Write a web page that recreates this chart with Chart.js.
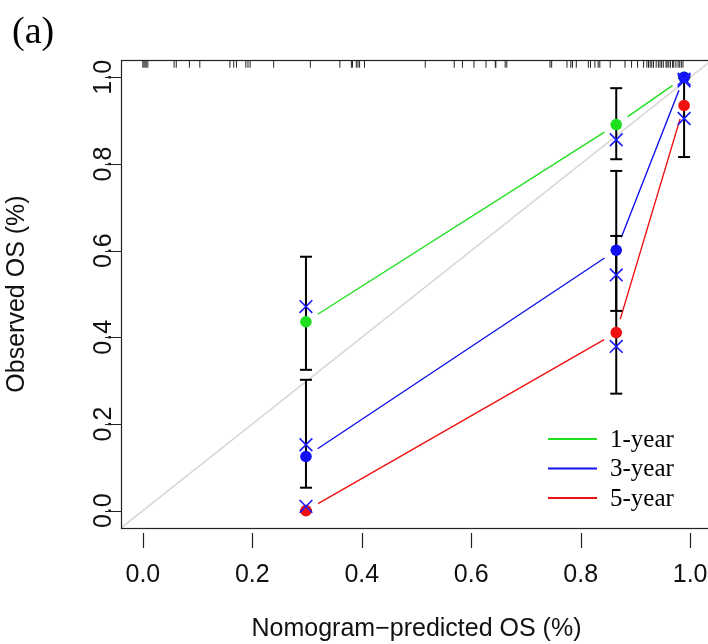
<!DOCTYPE html>
<html>
<head>
<meta charset="utf-8">
<script src="https://cdn.jsdelivr.net/npm/chart.js@4.4.1/dist/chart.umd.min.js"></script>
<style>
  html, body { margin: 0; padding: 0; background: #fff; overflow: hidden; }
  #wrap { position: relative; width: 708px; height: 644px; overflow: hidden; }
  #cal { position: absolute; left: 0; top: 0; }
</style>
</head>
<body>
<div id="wrap"><canvas id="cal" width="716" height="644"></canvas></div>
<script>
// mean nomogram-predicted OS in each risk group
const groupX = [0.298, 0.865, 0.989];

// observed (Kaplan-Meier) OS per group
const obs1 = [0.436, 0.891, 1.0];
const obs3 = [0.125, 0.601, 1.0];
const obs5 = [0.0, 0.411, 0.935];

// bias-corrected estimates (blue x marks)
const corr1 = [0.471, 0.856, 0.992];
const corr3 = [0.152, 0.544, 0.996];
const corr5 = [0.010, 0.379, 0.905];

// 95% CI of observed OS
const lo1 = [0.325, 0.811, 1.0];
const hi1 = [0.586, 0.975, 1.0];
const lo3 = [0.053, 0.461, 1.0];
const hi3 = [0.302, 0.784, 1.0];
const lo5 = [0.0, 0.270, 0.816];
const hi5 = [0.0, 0.634, 1.0];

// distribution of predicted values (rug on top)
const rugX = [0.0, 0.002, 0.004, 0.006, 0.009, 0.057, 0.061, 0.085, 0.104, 0.159, 0.166, 0.171,
  0.188, 0.192, 0.196, 0.239, 0.306, 0.360, 0.381, 0.383, 0.390, 0.393, 0.396, 0.405, 0.516,
  0.569, 0.584, 0.605, 0.627, 0.644, 0.645, 0.662, 0.665, 0.744, 0.747, 0.775, 0.782, 0.785,
  0.792, 0.814, 0.818, 0.826, 0.832, 0.835, 0.854, 0.881, 0.893, 0.904, 0.915, 0.921, 0.924,
  0.927, 0.930, 0.933, 0.938, 0.942, 0.945, 0.948, 0.951, 0.956, 0.958, 0.961, 0.964, 0.968,
  0.970, 0.974, 0.978, 0.981, 0.984, 0.987];

const xTicks = [0, 0.2, 0.4, 0.6, 0.8, 1.0];
const yTicks = [0, 0.2, 0.4, 0.6, 0.8, 1.0];
const seriesNames = ['1-year', '3-year', '5-year'];
const seriesColors = ['#1fe01f', '#1010f0', '#f01010'];

const axMin = -0.04, axMax = 1.04;
const SANS = '"Liberation Sans", Arial, sans-serif';
const SERIF = '"Liberation Serif", "Times New Roman", serif';

const pts = (xs, ys) => xs.map((x, i) => ({ x, y: ys[i] }));

function barPoints(lo, hi) {
  const out = [];
  groupX.forEach((x, i) => {
    out.push({ x, y: lo[i] }, { x, y: hi[i] }, { x, y: null });
  });
  return out;
}

// R type="b": leave a small gap where each segment meets a point
function gapDash(c) {
  const len = Math.hypot(c.p1.x - c.p0.x, c.p1.y - c.p0.y);
  const gap = 14;
  if (len <= gap * 2 + 1) return [0.001, len + 10];
  return [0.001, gap, len - 2 * gap, gap + 5000];
}

const obs = [obs1, obs3, obs5];
const corr = [corr1, corr3, corr5];
const los = [lo1, lo3, lo5];
const his = [hi1, hi3, hi5];

const datasets = [];

datasets.push({
  data: [{ x: axMin, y: axMin }, { x: axMax, y: axMax }],
  showLine: true, borderColor: '#d6d6d6', borderWidth: 1.5, pointRadius: 0, order: 10,
});

obs.forEach((o, k) => datasets.push({
  data: pts(groupX, o),
  showLine: true, borderColor: seriesColors[k], borderWidth: 1.4, pointRadius: 0, order: 9,
  segment: { borderDash: gapDash },
}));

los.forEach((lo, k) => datasets.push({
  data: barPoints(lo, his[k]),
  showLine: true, spanGaps: false, borderColor: '#000', borderWidth: 2,
  pointStyle: 'line', pointRadius: 6, pointBorderWidth: 2, pointBorderColor: '#000', order: 8,
}));

// later series are drawn on top (higher order = drawn earlier)
obs.forEach((o, k) => datasets.push({
  data: pts(groupX, o),
  pointStyle: 'circle', pointRadius: 5.8, pointBackgroundColor: seriesColors[k],
  pointBorderWidth: 0, order: 7 - k * 0.1,
}));

corr.forEach((c, k) => datasets.push({
  data: pts(groupX, c),
  pointStyle: 'crossRot', pointRadius: 9, pointBorderColor: '#1a1aff', pointBorderWidth: 1.6,
  order: 5 - k * 0.1,
}));

datasets.push({
  data: rugX.map(x => ({ x, y: axMax - 0.0095 })),
  pointStyle: 'line', pointRotation: 90, pointRadius: 3.6, pointBorderColor: '#222',
  pointBorderWidth: 1, order: 1,
});

const decorations = {
  id: 'decorations',
  afterDraw(chart) {
    const { ctx, chartArea: a, scales: { x, y } } = chart;
    ctx.save();
    // plot box
    ctx.strokeStyle = '#222';
    ctx.lineWidth = 1.2;
    ctx.strokeRect(a.left + 0.5, a.top + 0.5, a.right - a.left, a.bottom - a.top);
    // tick marks
    ctx.beginPath();
    xTicks.forEach(v => {
      const px = Math.round(x.getPixelForValue(v)) + 0.5;
      ctx.moveTo(px, a.bottom + 5);
      ctx.lineTo(px, a.bottom + 20);
    });
    yTicks.forEach(v => {
      const py = Math.round(y.getPixelForValue(v)) + 0.5;
      ctx.moveTo(a.left - 16, py);
      ctx.lineTo(a.left, py);
    });
    ctx.stroke();

    // legend
    ctx.font = '25px ' + SERIF;
    ctx.textBaseline = 'middle';
    ctx.fillStyle = '#000';
    seriesNames.forEach((name, k) => {
      const ly = 439 + k * 29.5;
      ctx.strokeStyle = seriesColors[k];
      ctx.lineWidth = 2;
      ctx.beginPath();
      ctx.moveTo(548, ly);
      ctx.lineTo(597, ly);
      ctx.stroke();
      ctx.fillText(name, 610, ly + 1);
    });

    // panel label
    ctx.font = '38px ' + SERIF;
    ctx.textBaseline = 'alphabetic';
    ctx.fillText('(a)', 12, 43);
    ctx.restore();
  },
};

new Chart(document.getElementById('cal'), {
  type: 'scatter',
  data: { datasets },
  plugins: [decorations],
  options: {
    responsive: false,
    animation: false,
    events: [],
    layout: { autoPadding: false, padding: { top: 60, right: 4, left: 0, bottom: 0 } },
    plugins: { legend: { display: false }, tooltip: { enabled: false } },
    scales: {
      x: {
        type: 'linear', min: axMin, max: axMax,
        grid: { display: false, drawTicks: false },
        border: { display: false },
        afterBuildTicks: s => { s.ticks = xTicks.map(value => ({ value })); },
        afterFit: s => { s.height = 116; s.paddingLeft = 0; s.paddingRight = 0; },
        ticks: { font: { family: SANS, size: 25 }, color: '#111', padding: 32,
          callback: v => v.toFixed(1) },
        title: { display: true, text: 'Nomogram\u2212predicted OS (%)', color: '#111',
          font: { family: SANS, size: 25 }, padding: { top: 0, bottom: 0 } },
      },
      y: {
        type: 'linear', min: axMin, max: axMax,
        grid: { display: false, drawTicks: false },
        border: { display: false },
        afterBuildTicks: s => { s.ticks = yTicks.map(value => ({ value })); },
        afterFit: s => { s.width = 121; s.paddingTop = 0; s.paddingBottom = 0; },
        ticks: { font: { family: SANS, size: 25 }, color: '#111', padding: 0,
          minRotation: 90, maxRotation: 90, crossAlign: 'center',
          callback: v => v.toFixed(1) },
        title: { display: true, text: 'Observed OS (%)', color: '#111',
          font: { family: SANS, size: 25 }, padding: { top: 2, bottom: 0 } },
      },
    },
  },
});
</script>
</body>
</html>
